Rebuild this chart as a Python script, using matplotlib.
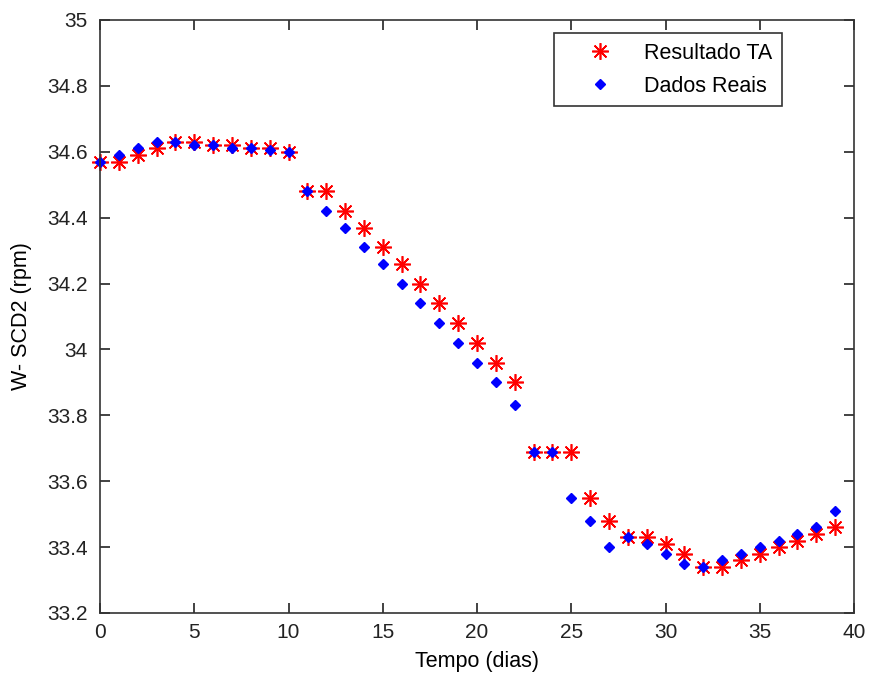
import matplotlib
matplotlib.use("Agg")
import matplotlib.pyplot as plt

# dias 0..39
dias = list(range(40))

resultado_ta = [
    34.57, 34.57, 34.59, 34.61, 34.63, 34.63, 34.62, 34.62, 34.61, 34.61,
    34.60, 34.48, 34.48, 34.42, 34.37, 34.31, 34.26, 34.20, 34.14, 34.08,
    34.02, 33.96, 33.90, 33.69, 33.69, 33.69, 33.55, 33.48, 33.43, 33.43,
    33.41, 33.38, 33.34, 33.34, 33.36, 33.38, 33.40, 33.42, 33.44, 33.46,
]

dados_reais = [
    34.57, 34.59, 34.61, 34.63, 34.63, 34.62, 34.62, 34.61, 34.61, 34.605,
    34.60, 34.48, 34.42, 34.37, 34.31, 34.26, 34.20, 34.14, 34.08, 34.02,
    33.96, 33.90, 33.83, 33.69, 33.69, 33.55, 33.48, 33.40, 33.43, 33.41,
    33.38, 33.35, 33.34, 33.36, 33.38, 33.40, 33.42, 33.44, 33.46, 33.51,
]

x_ticks = [0, 5, 10, 15, 20, 25, 30, 35, 40]
y_ticks = [33.2, 33.4, 33.6, 33.8, 34, 34.2, 34.4, 34.6, 34.8, 35]
y_labels = ["33.2", "33.4", "33.6", "33.8", "34", "34.2", "34.4", "34.6", "34.8", "35"]

plt.rcParams["font.family"] = ["Liberation Sans", "DejaVu Sans"]
plt.rcParams["font.size"] = 15.5

fig = plt.figure(figsize=(8.69, 6.78), dpi=100)
ax = fig.add_axes([100 / 869, 1 - 613 / 678, 754 / 869, 593 / 678])

ax.plot(dias, resultado_ta, linestyle="none", marker=(8, 2, 0), markersize=12,
        color="red", markeredgewidth=1.2, label="Resultado TA", clip_on=False)
ax.plot(dias, dados_reais, linestyle="none", marker="D", markersize=5.5,
        color="blue", label="Dados Reais", clip_on=False)

ax.set_xlim(0, 40)
ax.set_ylim(33.2, 35)
ax.set_xticks(x_ticks)
ax.set_yticks(y_ticks)
ax.set_yticklabels(y_labels)
ax.tick_params(direction="in", length=7, width=1.2, top=True, right=True,
               colors="#222222", labelsize=15)
ax.tick_params(axis="x", pad=7)
ax.tick_params(axis="y", pad=9)
for s in ax.spines.values():
    s.set_linewidth(1.2)
    s.set_color("#333333")

ax.set_xlabel("Tempo (dias)")
ax.set_ylabel("W- SCD2 (rpm)")
ax.xaxis.set_label_coords(0.5, -0.064)
ax.yaxis.set_label_coords(-0.09, 0.5)

leg = ax.legend(loc="upper right", bbox_to_anchor=(0.9045, 0.978), frameon=True,
                fancybox=False, edgecolor="black", borderpad=0.45,
                handletextpad=0.35, handlelength=3.4, labelspacing=0.55,
                borderaxespad=0)
leg.get_frame().set_linewidth(1.2)

fig.savefig("out.png", dpi=100)
